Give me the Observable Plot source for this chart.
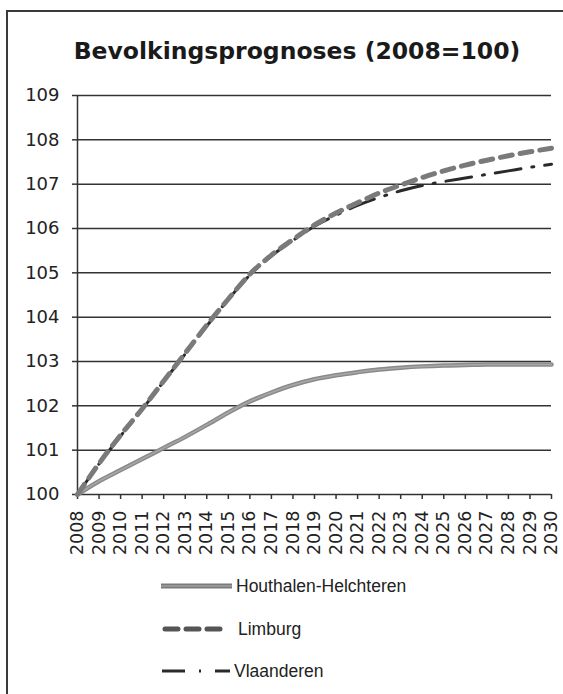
<!DOCTYPE html>
<html>
<head>
<meta charset="utf-8">
<script src="https://cdn.jsdelivr.net/npm/d3@7"></script>
<script src="https://cdn.jsdelivr.net/npm/@observablehq/plot@0.6"></script>
<style>
  html, body { margin: 0; padding: 0; background: #fff; width: 563px; height: 694px; overflow: hidden; }
  #frame { position: absolute; left: 6px; top: 10px; width: 620px; height: 720px; border-left: 2px solid #3a3a3a; border-top: 2px solid #3a3a3a; }
  #title { position: absolute; left: 0; width: 594px; top: 37px; text-align: center; font-family: "DejaVu Sans", sans-serif; font-weight: bold; font-size: 23.5px; color: #1a1a1a; }
  #chart { position: absolute; left: 0; top: 80px; }
  .leg { position: absolute; left: 160px; height: 24px; display: flex; align-items: center; font-family: "Liberation Sans", Arial, sans-serif; font-size: 17.5px; color: #222; }
  .leg svg { display: block; }
</style>
</head>
<body>
<div id="frame"></div>
<div id="title">Bevolkingsprognoses (2008=100)</div>
<div id="chart"></div>
<div id="legend"></div>
<script>
const years = [2008,2009,2010,2011,2012,2013,2014,2015,2016,2017,2018,2019,2020,2021,2022,2023,2024,2025,2026,2027,2028,2029,2030];
const houthalen = [100,100.3,100.55,100.8,101.05,101.3,101.57,101.85,102.1,102.3,102.47,102.6,102.69,102.76,102.82,102.86,102.89,102.91,102.92,102.93,102.93,102.93,102.93];
const limburg = [100,100.7,101.34,101.93,102.56,103.19,103.82,104.41,104.97,105.4,105.75,106.08,106.35,106.58,106.8,106.98,107.15,107.3,107.43,107.54,107.64,107.73,107.81];
const vlaanderen = [100,100.69,101.32,101.92,102.55,103.17,103.8,104.4,104.95,105.38,105.73,106.05,106.3,106.52,106.7,106.85,106.97,107.06,107.14,107.22,107.3,107.38,107.45];
const yTicks = [100,101,102,103,104,105,106,107,108,109];
const seriesNames = ["Houthalen-Helchteren","Limburg","Vlaanderen"];

const rows = (arr) => years.map((year, i) => ({year, value: arr[i]}));

const chart = Plot.plot({
  width: 563,
  height: 500,
  marginLeft: 77,
  marginRight: 12,
  marginTop: 15,
  marginBottom: 86,
  style: { fontFamily: "DejaVu Sans, sans-serif", fontSize: "18px", color: "#222", background: "transparent" },
  x: { domain: [2008, 2030] },
  y: { domain: [100, 109] },
  marks: [
    Plot.ruleY(yTicks, { stroke: "#333", strokeWidth: 1.5 }),
    Plot.ruleX([2008], { stroke: "#333", strokeWidth: 1.5 }),
    Plot.axisY({ ticks: yTicks, tickSize: 5, tickPadding: 13, fontSize: 18, tickFormat: d => String(d), label: null, stroke: "#333", strokeWidth: 1.5 }),
    Plot.axisX({ ticks: years, tickSize: 5, tickPadding: 11, fontSize: 17.5, tickRotate: -90, tickFormat: d => String(d), label: null, stroke: "#333", strokeWidth: 1.5 }),
    Plot.line(rows(houthalen), { x: "year", y: "value", stroke: "#8a8a8a", strokeWidth: 4.5, curve: "monotone-x" }),
    Plot.line(rows(houthalen), { x: "year", y: "value", stroke: "#a8a8a8", strokeWidth: 1.5, curve: "monotone-x" }),
    Plot.line(rows(vlaanderen), { x: "year", y: "value", stroke: "#2a2a2a", strokeWidth: 3, strokeDasharray: "26,11,2,11", curve: "monotone-x" }),
    Plot.line(rows(limburg), { x: "year", y: "value", stroke: "#7a7a7a", strokeWidth: 5, strokeDasharray: "12,8", strokeLinecap: "round", curve: "monotone-x" })
  ]
});
document.getElementById("chart").appendChild(chart);

const legend = document.getElementById("legend");
const samples = [
  { top: 574, svg: '<svg width="74" height="12"><line x1="1" y1="6" x2="72" y2="6" stroke="#7a7a7a" stroke-width="5"/><line x1="1" y1="6" x2="72" y2="6" stroke="#a0a0a0" stroke-width="1.5"/></svg>', gap: 2 },
  { top: 617, svg: '<svg width="74" height="12"><line x1="5" y1="6" x2="62" y2="6" stroke="#555" stroke-width="5" stroke-dasharray="13,8" stroke-linecap="round"/></svg>', gap: 4 },
  { top: 659, svg: '<svg width="74" height="12"><line x1="2" y1="6" x2="70" y2="6" stroke="#2a2a2a" stroke-width="3" stroke-dasharray="23,14,2,14"/></svg>', gap: 0 }
];
seriesNames.forEach((name, i) => {
  const d = document.createElement("div");
  d.className = "leg";
  d.style.top = samples[i].top + "px";
  d.innerHTML = samples[i].svg + '<span style="margin-left:' + samples[i].gap + 'px">' + name + '</span>';
  legend.appendChild(d);
});
</script>
</body>
</html>
